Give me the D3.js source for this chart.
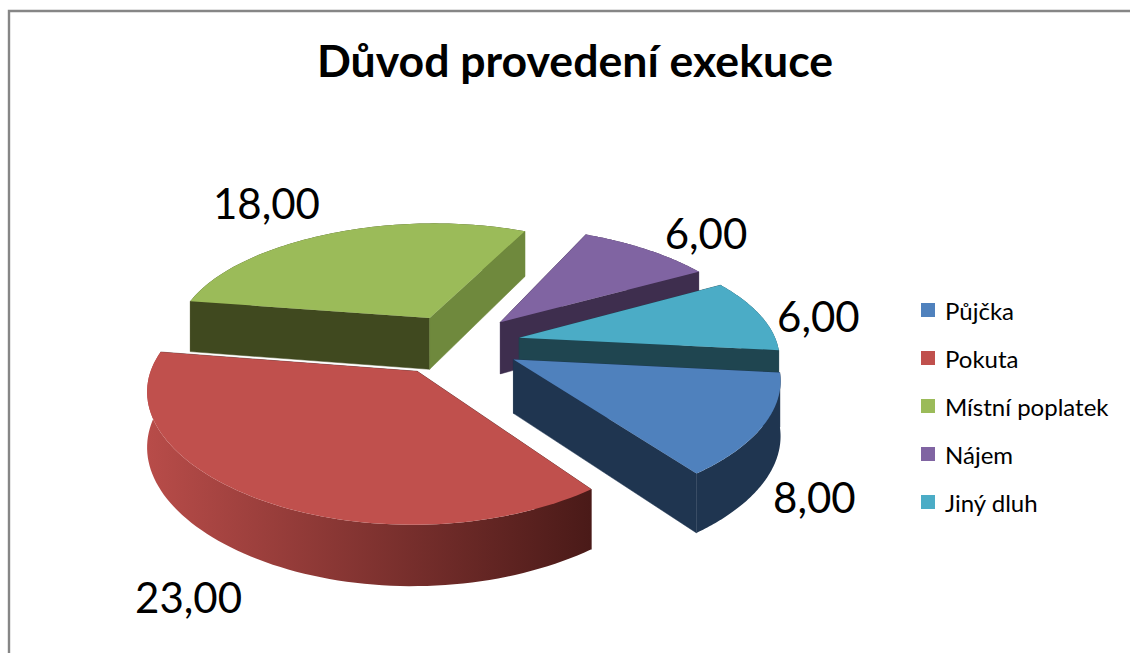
<!DOCTYPE html>
<html><head><meta charset="utf-8">
<script src="https://cdn.jsdelivr.net/npm/d3@7"></script>
<style>html,body{margin:0;padding:0;background:#fff;overflow:hidden}svg{display:block}text{font-family:Lato,"Open Sans",sans-serif;fill:#000}</style>
</head><body><svg id="c" width="1130" height="653"></svg>
<script>
const titleText = "Důvod provedení exekuce";
const categories = ["Půjčka","Pokuta","Místní poplatek","Nájem","Jiný dluh"];
const values = [8,23,18,6,6];
const topColors = ["#4f81bd","#c0504d","#9bbb59","#8064a2","#4bacc6"];
const endWallColors = ["#1f3550","#4a1a18","#6f893d","#3e2e4e","#1f4550"];
const startWallColors = ["#1f3550","#4a1a18","#40491f","#3e2e4e","#1f4550"];
const arcWallLeft = ["#1f3550","#b84c49","#40491f","#3e2e4e","#1f4550"];
const arcWallRight = ["#1f3550","#4a1a18","#40491f","#3e2e4e","#1f4550"];
const labelRadius = [1.22,1.12,1.30,1.30,1.30];
const labelNudge = [[-8,26],[-48,49],[-44,-30],[23,-20],[-11,-18]];
const sliceShiftX = [-2,-3,4,0,-2];

const cx=456, cy=344, rx=258, ry=118, k=0.165, depth=53, explode=0.26, rot=96*Math.PI/180;
const svg=d3.select("#c");
const defs=svg.append("defs");
svg.append("path").attr("d",d3.line()([[9,653],[9,11],[1130,11]])).attr("fill","none").attr("stroke","#868686").attr("stroke-width",2.4);
svg.append("text").attr("x",575).attr("y",77).attr("text-anchor","middle").attr("font-size",44.6).attr("font-weight",700).text(titleText);

const pie=d3.pie().sort(null).startAngle(rot).endAngle(rot+2*Math.PI);
const arcs=pie(values);
const project=(X,Y,z)=>[cx+rx*X*(1+0.15*Y), cy+ry*Y/(1-k*Y)+z*depth*(1+0.13*Y)];
const line=d3.line();
function sliceGeom(d){
  const mid=(d.startAngle+d.endAngle)/2, ox=explode*Math.sin(mid), oy=-explode*Math.cos(mid), sh=sliceShiftX[d.index];
  const P=(a,r,z)=>{const p=project(ox+r*Math.sin(a),oy-r*Math.cos(a),z);return [p[0]+sh,p[1]];};
  return {mid,P};
}
const order=d3.range(arcs.length).sort((a,b)=>{
  const m=i=>(arcs[i].startAngle+arcs[i].endAngle)/2; return (-Math.cos(m(a)))-(-Math.cos(m(b)));});
const gAll=svg.append("g");
order.forEach(i=>{
  const d=arcs[i],{P}=sliceGeom(d),g=gAll.append("g");
  const angs=d3.range(0,81).map(t=>d.startAngle+(d.endAngle-d.startAngle)*t/80);
  const grad=defs.append("linearGradient").attr("id","g"+i);
  grad.append("stop").attr("offset","0").attr("stop-color",arcWallLeft[i]);
  grad.append("stop").attr("offset","1").attr("stop-color",arcWallRight[i]);
  const arcTop=angs.map(a=>P(a,1,0)), arcBot=angs.map(a=>P(a,1,1)).reverse();
  const wall=(a,c)=>g.append("path").attr("d",line([P(a,0,0),P(a,1,0),P(a,1,1),P(a,0,1)])+"Z").attr("fill",c).attr("stroke",c).attr("stroke-width",.5);
  const n0=-Math.cos(d.startAngle-Math.PI/2), n1=-Math.cos(d.endAngle+Math.PI/2);
  if(n0<=0) wall(d.startAngle,startWallColors[i]);
  if(n1<=0) wall(d.endAngle,endWallColors[i]);
  g.append("path").attr("d",line(arcTop.concat(arcBot))+"Z").attr("fill",`url(#g${i})`);
  if(n0>0) wall(d.startAngle,startWallColors[i]);
  if(n1>0) wall(d.endAngle,endWallColors[i]);
  g.append("path").attr("d",line([P(d.startAngle,0,0)].concat(arcTop))+"Z").attr("fill",topColors[i]);
});
const fmt=v=>d3.format(".2f")(v).replace(".",",");
arcs.forEach((d,i)=>{
  const {P,mid}=sliceGeom(d),p=P(mid,labelRadius[i],0.5);
  svg.append("text").attr("x",p[0]+labelNudge[i][0]).attr("y",p[1]+labelNudge[i][1]).attr("text-anchor","middle").attr("dominant-baseline","central").attr("font-size",42).text(fmt(d.value));
});
const ly=d3.scalePoint().domain(categories).range([310,502]);
categories.forEach((c,i)=>{
  svg.append("rect").attr("x",921).attr("y",ly(c)-7).attr("width",14).attr("height",14).attr("fill",topColors[i]);
  svg.append("text").attr("x",945).attr("y",ly(c)+10).attr("font-size",24).text(c);
});
</script></body></html>
